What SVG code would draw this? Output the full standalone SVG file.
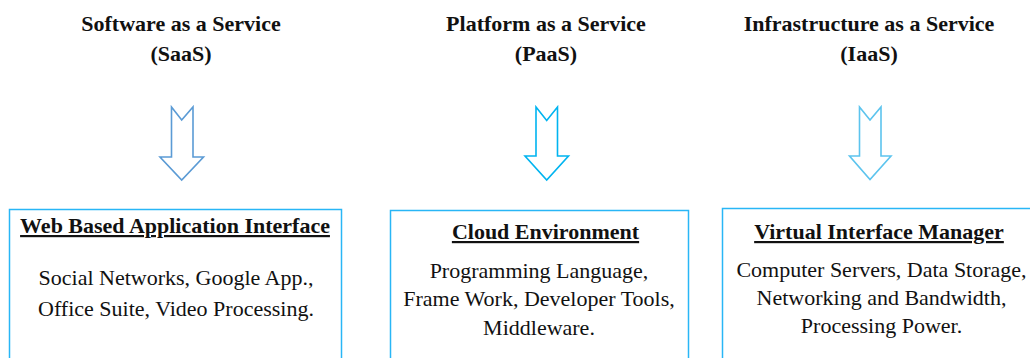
<svg xmlns="http://www.w3.org/2000/svg" width="1030" height="358" viewBox="0 0 1030 358">
<style>
text{font-family:"Liberation Serif","Times New Roman",serif;fill:#111;text-anchor:middle}
.hd{font-size:22px;font-weight:bold}
.tt{font-size:22px;font-weight:bold;text-decoration:underline}
.bd{font-size:22px}
.box{fill:#fff;stroke:#29b6f6;stroke-width:1.5}
.arr{fill:#fff;stroke-width:1.6;stroke-linejoin:miter}
</style>
<rect width="1030" height="358" fill="#fff"/>
<g id="saas">
<text class="hd" x="181" y="31">Software as a Service</text>
<text class="hd" x="181" y="61">(SaaS)</text>
<rect class="box" x="9.5" y="209.5" width="332" height="160"/>
<text class="tt" x="175" y="233">Web Based Application Interface</text>
<text class="bd" x="176" y="285">Social Networks, Google App.,</text>
<text class="bd" x="176" y="316">Office Suite, Video Processing.</text>
</g>
<g id="paas">
<text class="hd" x="546" y="31">Platform as a Service</text>
<text class="hd" x="546" y="61">(PaaS)</text>
<rect class="box" x="390.5" y="210.5" width="298" height="160"/>
<text class="tt" x="545.5" y="239">Cloud Environment</text>
<text class="bd" x="539" y="278">Programming Language,</text>
<text class="bd" x="539" y="306">Frame Work, Developer Tools,</text>
<text class="bd" x="539" y="335">Middleware.</text>
</g>
<g id="iaas">
<text class="hd" x="869" y="31">Infrastructure as a Service</text>
<text class="hd" x="869" y="61">(IaaS)</text>
<rect class="box" x="722.5" y="208.5" width="320" height="160"/>
<text class="tt" x="879" y="239">Virtual Interface Manager</text>
<text class="bd" x="881.5" y="277">Computer Servers, Data Storage,</text>
<text class="bd" x="881.5" y="305">Networking and Bandwidth,</text>
<text class="bd" x="881.5" y="333">Processing Power.</text>
</g>
<g id="connectors">
<path class="arr" stroke="#5b9bd5" d="M171.5,107 L181.7,120 L193,107 L193,157 L203.5,157 L181.7,180 L160,157 L171.5,157 Z"/>
<path class="arr" stroke="#00b4f0" d="M536,107 L546.7,120.5 L557.5,107 L557.5,156 L568.5,156 L546.7,180 L525,156 L536,156 Z"/>
<path class="arr" stroke="#5cc4ee" d="M859.5,107 L870,120 L881,107 L881,156 L891,156 L870,179.5 L849.5,156 L859.5,156 Z"/>
</g>
</svg>
